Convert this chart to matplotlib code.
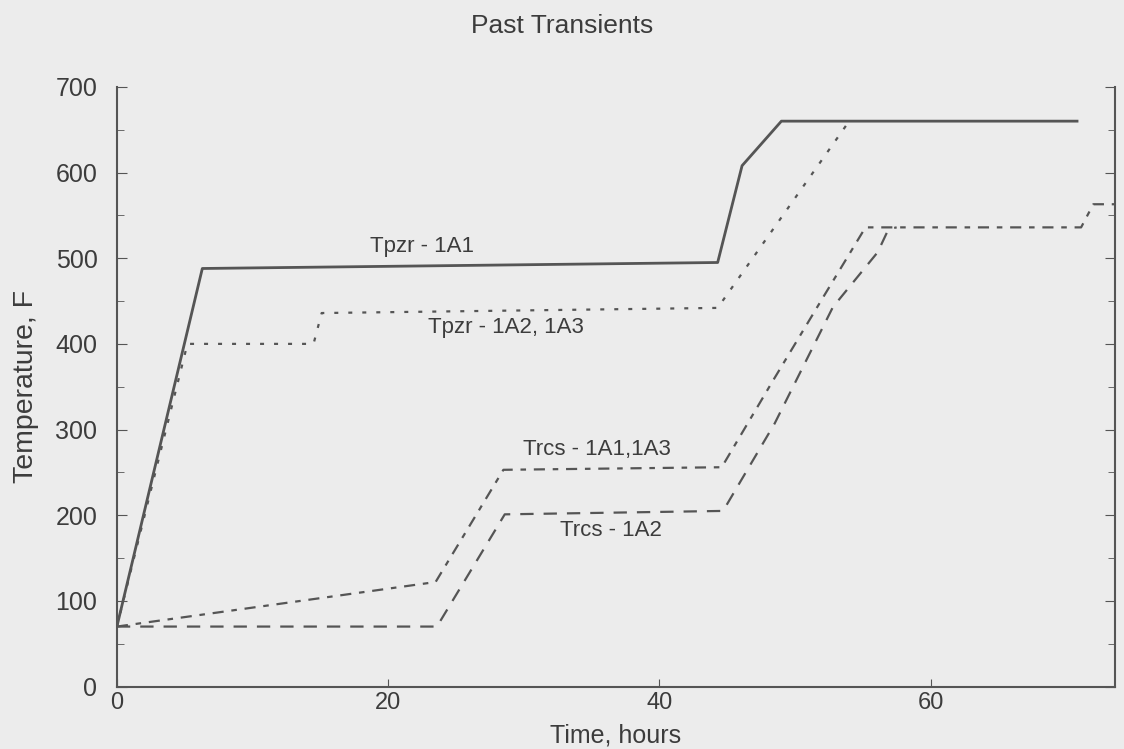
import matplotlib.pyplot as plt
from matplotlib.ticker import MultipleLocator

# Tpzr - 1A1 (solid)
tpzr_1a1_t = [0, 6.3, 44.3, 46.1, 49.0, 70.8]
tpzr_1a1_T = [70, 488, 495, 608, 660, 660]

# Tpzr - 1A2, 1A3 (dotted)
tpzr_1a2_t = [0, 5.2, 14.5, 15.1, 44.3, 54.0]
tpzr_1a2_T = [70, 400, 400, 436, 442, 660]

# Trcs - 1A1,1A3 (dash-dot)
trcs_1a1_t = [0, 23.5, 28.5, 44.6, 48.3, 52.1, 55.2, 71.1, 72.0, 73.6]
trcs_1a1_T = [70, 122, 253, 256, 355, 455, 536, 536, 563, 563]

# Trcs - 1A2 (dashed)
trcs_1a2_t = [0, 23.6, 28.6, 44.7, 48.5, 52.8, 56.1, 56.9, 57.5]
trcs_1a2_T = [70, 70, 201, 205, 307, 443, 507, 534, 536]

bg = '#ececec'
ink = '#555555'
txt = '#3c3c3c'

plt.rcParams['font.family'] = ['Liberation Sans', 'DejaVu Sans']

fig = plt.figure(figsize=(11.24, 7.49), dpi=100, facecolor=bg)
ax = fig.add_axes([0.104, 0.0834, 0.888, 0.8006], facecolor=bg)

ax.plot(tpzr_1a1_t, tpzr_1a1_T, color=ink, lw=2.0, linestyle='-')
ax.plot(tpzr_1a2_t, tpzr_1a2_T, color=ink, lw=1.6, linestyle=(0, (1.8, 4.5)))
ax.plot(trcs_1a1_t, trcs_1a1_T, color=ink, lw=1.6, linestyle=(0, (5, 3.5, 2.5, 3.5)))
ax.plot(trcs_1a2_t, trcs_1a2_T, color=ink, lw=1.6, linestyle=(0, (6, 4.5)))

ax.text(22.5, 514, 'Tpzr - 1A1', color=txt, fontsize=16, ha='center', va='center')
ax.text(28.7, 419, 'Tpzr - 1A2, 1A3', color=txt, fontsize=16, ha='center', va='center')
ax.text(35.4, 277, 'Trcs - 1A1,1A3', color=txt, fontsize=16, ha='center', va='center')
ax.text(36.4, 182, 'Trcs - 1A2', color=txt, fontsize=16, ha='center', va='center')

ax.set_xlim(0, 73.6)
ax.set_ylim(0, 700)
ax.spines['top'].set_visible(False)
for side in ['left', 'bottom', 'right']:
    ax.spines[side].set_color(ink)
    ax.spines[side].set_linewidth(1.5)

ax.xaxis.set_major_locator(MultipleLocator(20))
ax.yaxis.set_major_locator(MultipleLocator(100))
ax.yaxis.set_minor_locator(MultipleLocator(50))
ax.tick_params(axis='both', which='both', direction='in', colors=ink, labelcolor=txt)
ax.tick_params(axis='y', which='major', length=7, labelsize=18, pad=14, right=True)
ax.tick_params(axis='y', which='minor', length=5, right=True)
ax.tick_params(axis='x', which='major', length=6, labelsize=17, pad=4)

ax.set_ylabel('Temperature, F', fontsize=20.5, color=txt, labelpad=12)
# x axis title sits right under the tick labels, as in the scan
fig.text(0.5 * (0.104 + 0.992), 0.002, 'Time, hours', fontsize=18, color=txt,
         ha='center', va='bottom')
fig.text(0.5, 0.965, 'Past Transients', fontsize=19, color=txt, ha='center', va='center')

fig.savefig('out.png', dpi=100, facecolor=bg)
